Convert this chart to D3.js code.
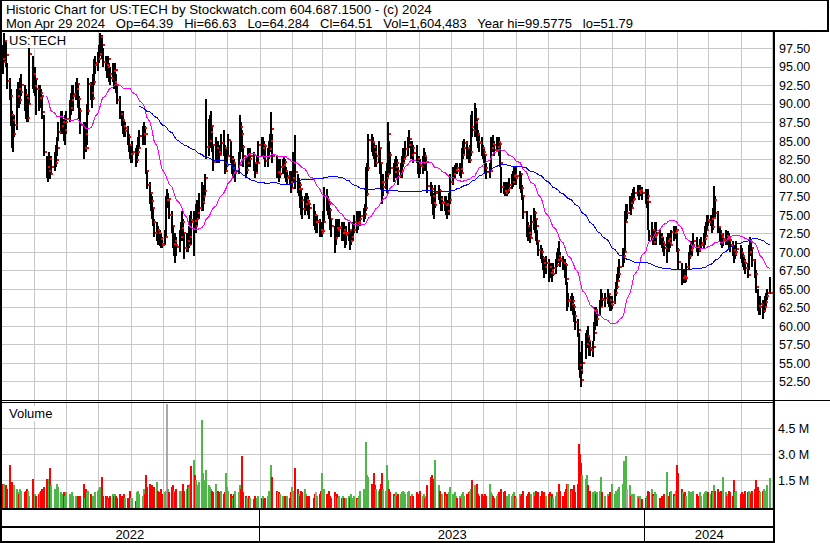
<!DOCTYPE html>
<html>
<head>
<meta charset="utf-8">
<script src="https://cdn.jsdelivr.net/npm/d3@7"></script>
<style>
  body { margin: 0; background: #fff; }
  svg { display: block; }
  text { font-family: "Liberation Sans", Arial, sans-serif; fill: #000; }
</style>
</head>
<body>
<svg id="chart" width="830" height="543"></svg>
<script>
// Daily bars, one entry per trading day from May 2 2022
var closes = [
96.0,95.6,98.5,96.6,93.1,91.0,88.5,87.8,86.0,87.2,
91.0,92.0,90.5,91.6,92.5,91.2,90.8,88.1,90.0,96.7,
94.0,92.4,93.4,92.0,90.8,91.5,91.1,88.9,83.5,81.5,
81.0,82.6,80.5,81.5,82.0,82.4,84.0,86.2,87.0,87.5,
86.5,87.6,88.0,89.5,90.5,91.0,91.4,92.0,92.7,90.6,
89.0,87.1,84.0,86.0,84.0,89.0,92.7,91.5,90.8,93.0,
95.3,95.5,96.0,96.8,99.0,98.0,95.7,95.3,95.0,96.0,94.0,
93.5,94.5,93.0,94.6,92.5,90.5,88.7,87.8,87.0,86.4,86.7,
85.5,84.5,83.2,83.2,83.5,82.4,83.5,84.0,85.6,86.0,
86.7,86.0,81.0,79.1,78.0,76.9,76.0,74.1,72.5,73.0,
72.5,71.8,71.1,71.0,72.0,77.0,77.0,77.2,75.0,73.5,
71.1,71.5,71.0,70.7,72.0,73.2,74.0,72.5,70.5,71.5,70.9,
72.0,74.3,74.0,74.2,73.5,74.5,75.2,75.9,76.8,77.6,
78.2,80.0,84.2,85.0,86.2,87.0,84.5,82.1,84.0,83.5,
83.1,84.7,84.0,81.0,81.8,83.0,85.1,82.6,81.3,82.0,
80.6,81.0,81.7,86.9,86.0,84.2,83.0,81.1,82.0,83.1,
82.6,82.9,82.0,80.7,82.0,84.4,84.0,84.5,84.3,82.3,
83.0,83.9,85.0,86.6,83.0,80.8,80.8,80.5,81.5,81.8,
82.2,81.0,80.0,80.3,79.5,78.7,80.0,82.0,80.8,78.5,
79.0,78.5,77.0,75.8,76.5,77.0,76.8,76.5,76.0,75.0,
74.0,74.0,74.2,73.0,72.6,72.8,74.0,77.6,77.0,76.5,
75.7,74.5,73.5,71.9,73.3,73.0,73.2,73.4,72.5,73.0,
72.5,72.3,72.5,73.0,71.5,72.0,73.0,74.1,73.9,74.0,
74.5,74.8,75.1,76.0,77.8,81.3,85.1,84.8,84.2,83.5,
82.0,83.0,84.0,82.0,79.5,78.8,79.5,80.0,80.5,86.0,
83.1,81.3,80.8,81.5,82.0,81.0,80.2,81.0,82.0,82.6,82.9,
83.9,84.5,85.3,83.1,84.0,83.4,82.6,82.0,81.7,81.6,
82.0,82.9,82.1,82.2,78.9,78.5,77.5,76.6,76.4,78.0,
78.3,77.2,76.6,76.8,76.3,76.5,75.5,77.0,79.5,80.5,
81.1,81.4,81.0,81.2,80.7,83.1,84.0,84.7,84.0,82.4,
83.5,86.9,86.5,87.5,87.9,86.0,84.9,84.7,84.0,83.5,
83.1,81.3,80.8,81.0,84.0,84.6,84.4,83.8,84.2,84.9,84.6,
82.0,78.8,78.3,78.0,78.4,78.6,79.1,79.5,80.2,80.4,80.0,
80.2,80.5,78.7,77.5,75.4,73.5,72.5,72.1,71.9,74.0,
75.3,74.5,73.5,71.5,70.3,70.0,69.2,68.5,67.9,68.5,
68.0,67.1,67.5,67.0,67.8,68.3,68.9,69.5,69.1,68.8,
68.5,68.3,66.4,63.4,63.5,63.0,63.4,62.5,61.3,60.5,59.5,
54.7,54.0,52.7,55.0,57.5,58.6,58.0,57.0,56.8,57.1,
59.0,62.2,60.9,61.5,62.5,63.6,63.5,63.8,64.3,63.5,
63.0,62.8,63.3,64.5,65.3,66.1,67.0,68.0,69.4,70.0,
74.0,75.3,75.3,76.6,75.9,77.0,77.2,78.0,78.2,78.0,
78.4,78.0,77.0,77.5,76.7,72.1,73.0,71.4,72.0,72.3,
72.6,72.0,71.4,71.0,70.5,71.5,71.8,71.2,71.0,72.7,
72.5,72.8,73.0,70.3,68.6,66.5,66.7,66.6,66.5,68.0,
69.4,70.2,70.5,71.0,71.5,70.8,70.3,71.0,71.2,71.7,
72.1,73.0,74.3,74.0,74.4,73.4,74.6,77.0,75.2,73.4,
72.4,72.0,71.6,71.8,72.2,71.8,71.9,71.6,71.0,70.3,
69.7,70.0,70.4,69.8,69.4,68.8,68.5,67.8,66.9,70.0,
71.3,70.5,68.9,67.0,65.3,62.7,62.6,63.0,62.0,62.6,
63.2,64.0,64.4,64.51
];

var highs = [
97.5,98.0,99.58,98.5,95.5,93.5,92.0,89.0,88.5,88.5,
92.0,93.0,92.5,93.5,94.0,92.5,92.0,90.5,91.0,97.5,
96.5,94.5,95.0,93.5,92.5,92.5,92.0,91.0,88.5,83.0,
82.0,83.5,82.5,83.0,83.5,84.5,85.5,87.5,89.0,89.0,
88.0,88.5,89.0,90.5,91.5,92.5,92.5,93.0,93.5,92.5,
91.0,89.5,87.5,87.5,86.5,90.0,93.5,93.0,92.0,94.0,
96.0,96.5,97.0,98.0,99.58,99.3,97.5,96.5,96.0,96.5,95.5,
95.0,95.5,94.5,95.5,94.0,92.5,91.0,89.0,89.0,88.0,87.5,
87.0,86.0,84.5,84.0,85.0,84.0,84.5,85.5,86.5,87.0,
87.5,87.0,84.0,81.0,79.5,78.0,77.5,76.0,74.5,74.0,
73.5,73.0,72.5,72.0,73.0,77.5,78.5,78.0,77.0,75.5,
73.5,72.5,72.5,72.0,73.0,74.0,75.5,74.5,72.5,72.5,72.0,
73.5,75.0,75.5,75.5,75.0,76.5,77.0,78.0,79.5,78.5,
79.0,80.5,90.7,88.0,88.5,89.0,87.0,84.5,85.5,85.0,
84.5,86.0,86.5,84.5,83.5,84.0,86.0,85.0,83.0,83.0,
82.5,82.0,83.5,88.5,87.5,86.5,84.5,83.0,83.0,84.0,
84.0,84.0,83.5,82.0,83.0,85.0,85.5,85.5,85.0,84.5,
84.0,85.0,86.0,88.9,86.0,83.0,82.5,81.5,82.5,82.5,
83.0,82.5,81.5,81.0,81.0,80.0,81.0,83.5,85.8,80.5,
80.0,79.5,78.5,77.5,77.5,78.0,78.0,77.5,77.0,76.5,
75.5,75.0,75.0,74.5,73.5,74.0,75.5,78.8,78.5,77.5,
77.0,76.0,74.5,73.5,74.5,74.5,74.0,74.5,74.0,74.0,
74.0,73.5,73.5,74.0,73.0,73.0,74.0,75.0,75.5,75.0,
75.5,75.5,76.0,76.5,81.5,82.0,86.0,86.0,85.5,85.0,
84.0,84.5,85.0,84.0,82.0,80.5,80.5,81.0,82.0,87.5,
85.0,83.5,82.0,82.5,83.0,82.5,81.5,82.0,83.0,84.0,84.0,
85.0,85.5,86.5,85.0,85.0,84.5,84.5,83.0,83.0,82.5,
83.0,84.0,83.5,83.0,81.0,79.5,79.0,78.0,77.5,79.0,
79.0,78.5,77.5,77.5,77.5,77.5,77.0,78.0,80.5,81.5,
81.8,82.0,82.0,82.0,81.5,84.0,85.0,85.3,85.0,84.0,
84.5,88.5,89.0,90.1,89.5,88.0,86.5,86.0,85.5,84.5,
84.0,83.0,82.0,82.0,85.5,85.5,85.8,85.0,85.5,85.5,85.5,
84.5,81.5,79.5,79.5,79.5,79.5,80.0,80.5,81.0,81.5,81.0,
81.5,81.0,80.5,79.0,77.5,75.5,74.0,73.5,73.0,75.0,
76.0,75.5,74.5,73.0,71.5,71.0,70.5,69.5,69.0,69.5,
69.0,68.5,68.5,68.0,68.5,69.0,70.0,70.5,71.5,70.0,
69.5,69.0,68.5,66.0,64.5,64.0,64.5,64.0,63.0,62.0,61.0,
59.0,56.5,55.0,58.0,59.0,59.5,60.0,58.5,58.0,58.0,
60.5,62.5,62.5,62.0,63.5,65.0,64.5,64.5,65.0,64.5,
64.0,63.5,64.0,65.0,66.0,67.0,68.0,69.0,70.5,70.5,
75.5,76.5,76.5,77.5,77.0,78.0,78.5,78.8,79.0,79.0,
79.0,78.8,78.5,78.5,78.5,73.0,74.0,72.5,73.0,74.0,
74.0,73.0,72.5,72.0,71.5,72.0,72.5,72.0,72.5,73.0,
73.5,73.5,73.5,72.5,70.5,68.5,67.5,67.5,67.5,68.5,
70.0,71.0,71.5,71.5,72.5,72.0,71.0,71.8,72.0,72.5,
73.5,74.0,75.0,75.0,75.0,75.0,76.0,78.9,77.5,75.5,
73.5,73.0,72.5,72.5,73.0,72.8,72.8,72.5,72.0,71.5,
70.5,71.0,71.5,71.0,70.5,70.0,69.5,69.0,68.5,71.0,
72.0,71.5,70.5,69.0,67.5,65.0,63.5,64.0,63.5,63.5,
64.0,64.5,65.0,66.63
];

var lows = [
94.5,94.0,95.5,95.0,92.0,90.5,87.0,84.0,83.5,85.5,
86.5,90.0,89.5,90.0,91.0,89.0,88.0,87.5,87.5,90.0,
92.0,91.5,91.0,88.5,89.0,90.0,89.5,88.0,83.0,80.0,
79.5,80.0,79.8,80.5,81.0,81.5,83.0,85.0,86.0,86.0,
85.0,84.5,86.0,87.5,88.5,89.5,89.0,90.5,91.0,89.5,
88.0,86.0,82.5,83.5,83.5,84.5,88.5,90.5,89.5,90.5,
92.5,94.0,94.5,95.5,96.5,96.0,95.0,94.5,93.5,94.0,93.0,
92.5,93.0,92.0,93.0,91.5,90.0,88.0,87.0,86.0,85.5,85.5,
84.5,83.5,82.5,82.0,82.0,81.5,82.0,83.0,84.0,84.5,
85.0,84.5,80.5,78.5,76.5,75.5,74.5,73.5,72.0,71.5,
71.0,70.8,70.5,70.5,71.0,72.0,76.0,76.0,74.5,72.5,
70.5,69.5,68.5,69.5,70.0,72.0,71.5,71.5,69.0,70.0,70.0,
70.5,71.5,71.0,69.5,72.5,72.5,73.5,74.5,75.5,75.5,
76.5,77.5,82.5,83.0,84.0,85.5,83.5,81.0,82.0,82.0,
82.0,83.0,83.0,80.5,81.0,81.5,83.0,82.0,80.5,80.0,
80.0,79.5,80.5,82.5,84.5,83.5,81.5,80.0,80.5,81.5,
81.5,81.5,81.0,80.0,80.5,82.0,83.0,83.5,82.5,81.5,
81.5,82.5,83.5,84.5,82.0,80.0,80.0,79.5,80.0,80.5,
80.5,80.0,79.5,79.0,79.0,78.0,78.5,79.5,78.5,78.0,
77.5,76.0,75.0,74.5,75.0,75.5,75.5,75.0,74.5,73.5,
73.0,72.5,72.5,72.0,72.0,72.0,72.5,74.0,75.5,75.0,
74.5,73.0,72.0,69.8,71.0,72.0,72.0,72.0,71.5,72.0,
71.5,70.5,71.0,71.5,70.3,71.0,71.5,72.5,72.5,73.0,
73.5,73.5,74.0,74.5,75.5,77.5,81.0,83.5,83.0,82.5,
81.5,81.5,82.0,80.5,78.5,76.5,77.5,78.5,78.0,80.0,
82.5,80.5,79.5,80.0,80.5,79.8,79.0,80.0,80.0,81.5,82.0,
82.5,83.0,84.0,82.5,82.5,82.0,82.0,80.5,80.0,80.5,
80.5,81.5,81.0,81.0,78.0,77.5,76.5,75.0,74.5,76.0,
77.0,76.5,75.5,75.5,75.5,75.0,74.5,75.0,76.5,79.0,
80.0,80.5,80.5,80.3,80.0,80.5,82.5,83.0,82.5,82.0,
82.0,83.0,85.5,85.5,86.0,85.0,84.0,83.5,83.0,82.5,
82.0,80.5,79.8,80.0,81.0,83.5,83.5,83.0,83.5,83.5,83.0,
81.5,78.0,77.8,77.5,77.5,77.8,78.0,78.5,78.8,79.5,79.0,
79.0,78.5,78.0,77.0,74.5,72.0,71.5,71.5,71.2,72.0,
73.0,72.5,71.5,71.0,69.5,69.0,68.5,67.5,66.5,67.0,
66.0,66.5,66.5,66.0,66.8,67.0,68.0,68.5,68.5,68.0,
67.5,66.5,65.5,62.0,62.5,62.0,62.0,61.5,60.5,59.5,58.5,
54.0,53.0,51.79,53.5,55.5,57.0,57.5,56.0,56.0,55.8,
58.0,59.5,60.0,60.0,61.5,62.5,62.5,62.5,63.0,62.5,
62.0,62.0,62.3,63.0,64.0,65.0,66.0,66.5,68.0,68.5,
70.0,74.0,74.5,75.5,75.0,76.0,76.5,77.0,77.5,77.0,
77.5,77.0,76.5,76.0,73.0,71.5,71.5,71.0,71.0,71.5,
71.0,71.0,70.5,70.0,69.5,68.5,70.5,70.0,70.5,71.0,
71.5,71.8,72.0,70.0,67.5,65.5,65.8,66.0,65.8,66.0,
67.5,69.0,69.5,69.5,70.5,70.0,69.5,70.0,70.5,70.5,
71.0,72.0,73.0,73.5,73.5,72.5,73.0,74.5,74.5,72.5,
71.5,71.0,70.5,70.8,71.0,71.0,71.2,70.5,70.0,69.5,
68.5,69.0,69.5,69.0,68.5,68.0,67.5,67.0,66.5,67.5,
69.5,69.5,68.0,66.5,64.5,62.0,61.5,61.5,61.0,61.8,
62.0,62.5,63.5,64.284
];

// volume in millions of shares
var volumes = [
0.9,1.3,1.3,1.2,1.0,2.4,1.1,1.4,0.9,1.2,
1.0,0.8,0.7,1.0,0.9,0.8,0.9,1.0,0.9,0.6,
1.55,0.6,0.7,0.6,0.7,0.8,0.9,1.0,1.1,1.6,
1.3,1.6,2.2,1.2,1.0,0.9,1.3,1.1,0.8,0.7,
0.8,0.6,0.8,0.7,0.6,0.8,0.6,0.6,0.5,0.6,
0.5,0.6,1.3,0.5,1.0,0.8,0.9,0.7,0.6,0.6,
0.6,0.8,0.9,1.0,1.1,1.7,0.6,0.6,0.6,0.4,0.5,
0.6,0.7,0.6,0.7,0.6,0.5,0.7,0.6,0.5,0.7,0.5,
0.5,0.5,0.9,0.5,0.5,0.3,0.8,0.9,0.7,0.6,
1.0,0.7,1.8,1.1,1.3,0.9,1.2,0.9,1.1,1.4,
0.9,0.8,1.0,0.7,0.8,0.9,5.9,1.0,0.8,1.1,
1.2,0.9,0.8,1.0,0.9,0.9,0.8,1.3,0.9,1.0,1.2,
1.1,1.3,2.3,2.7,1.8,1.5,1.2,1.4,5.0,1.9,
1.4,1.5,2.1,1.2,1.1,1.0,0.9,0.8,1.3,0.9,
0.8,0.9,0.7,0.8,1.9,1.1,0.9,0.7,0.6,0.5,
0.7,0.9,0.8,1.2,1.0,2.9,0.8,0.6,0.5,0.5,
0.6,0.5,0.4,0.6,0.5,0.6,0.5,0.6,0.4,0.5,
0.6,0.9,0.7,2.4,1.7,0.9,0.8,0.8,0.7,0.6,
0.5,0.6,0.5,0.6,0.5,0.8,1.1,0.9,2.2,1.0,
0.7,0.6,0.9,0.8,1.0,0.7,0.6,0.5,0.6,0.5,
0.7,0.8,0.6,0.7,0.9,1.95,0.8,1.0,0.7,0.6,
0.9,0.6,0.5,0.8,0.6,0.7,0.5,0.6,0.5,0.6,
0.5,0.4,0.5,0.6,0.5,0.7,0.5,0.6,0.5,0.4,
0.6,0.9,1.0,0.8,3.7,1.8,1.7,1.3,1.0,1.9,
1.2,1.0,0.9,1.0,1.3,1.9,1.0,0.9,2.4,1.5,
1.0,0.8,0.7,0.6,0.8,0.6,0.7,0.7,0.8,0.9,0.8,
0.7,0.8,0.9,0.6,0.7,0.6,0.8,0.7,0.6,0.9,
0.6,0.7,0.5,0.6,1.2,1.7,1.8,1.6,1.0,2.65,
1.2,0.9,0.6,0.7,0.8,0.6,0.7,0.8,1.1,0.7,
0.8,0.6,0.5,0.6,0.5,0.7,0.8,0.6,0.7,0.8,
0.9,1.0,1.5,1.2,1.0,1.3,0.7,0.6,0.7,0.5,
0.6,0.7,0.6,1.3,0.8,0.7,0.6,0.5,0.6,0.7,0.8,
0.6,1.0,0.8,0.9,0.6,0.5,0.7,0.6,0.7,0.8,0.6,
0.5,0.7,0.6,0.7,0.9,0.6,0.7,0.8,0.6,0.7,
0.8,0.6,0.9,0.7,0.8,0.6,0.9,0.7,0.8,0.6,
0.7,0.8,0.6,0.7,0.5,0.6,0.8,0.7,1.3,0.9,
0.6,0.8,1.0,1.3,1.3,1.0,0.9,1.0,1.2,0.8,1.3,
3.6,3.0,2.5,1.8,1.6,1.8,1.2,0.8,0.9,0.8,
0.7,0.9,0.7,0.8,0.9,1.7,0.8,0.6,0.7,0.6,
0.8,0.7,1.3,0.7,0.9,0.8,1.0,1.1,1.3,2.6,
1.5,2.9,1.0,1.2,0.6,0.7,0.6,0.7,0.6,0.5,
0.6,0.4,0.5,0.6,0.9,0.8,1.0,0.7,0.6,0.8,
0.7,0.5,0.6,0.5,0.7,2.0,0.5,0.6,0.8,0.9,
0.7,0.6,0.9,2.4,1.9,1.0,0.8,0.7,0.8,0.6,
0.9,0.7,0.8,0.6,0.9,0.7,0.6,0.8,0.6,0.7,
0.8,0.9,0.6,0.8,0.7,0.9,0.8,1.2,0.9,1.0,
0.8,0.9,0.7,1.7,0.8,0.6,0.7,0.9,0.8,0.6,
1.5,0.8,0.9,0.7,0.8,0.6,0.7,0.9,0.8,0.9,
0.8,0.7,0.9,1.0,1.5,1.1,0.9,0.8,0.9,1.0,
0.8,0.9,1.2,1.604483
];

// NYSE closures in the period
var holidays = ["2022-05-30","2022-06-20","2022-07-04","2022-09-05","2022-11-24","2022-12-26",
  "2023-01-02","2023-01-16","2023-02-20","2023-04-07","2023-05-29","2023-06-19","2023-07-04",
  "2023-09-04","2023-11-23","2023-12-25","2024-01-01","2024-01-15","2024-02-19","2024-03-29"];

var priceTicks = [52.5,55,57.5,60,62.5,65,67.5,70,72.5,75,77.5,80,82.5,85,87.5,90,92.5,95,97.5];
var volumeTicks = [1.5, 3.0, 4.5];
var yearLabels = ["2022", "2023", "2024"];
var maWindows = [30, 90];
var maColors = ["#ff00ff", "#0000ff"];

var headerLine1 = "Historic Chart for US:TECH by Stockwatch.com 604.687.1500 - (c) 2024";
var headerLine2 = "Mon Apr 29 2024   Op=64.39   Hi=66.63   Lo=64.284   Cl=64.51   Vol=1,604,483   Year hi=99.5775   lo=51.79";

// layout
var svg = d3.select("#chart"),
  plotLeft = 2,
  plotRight = 774,
  priceTop = 33,
  priceBottom = 400,
  volTop = 402,
  volBase = 506.2,
  grid = "#c8c8c8";

// trading calendar
var dates = [];
var day = new Date(Date.UTC(2022, 4, 2));
while (dates.length < closes.length) {
  var dow = day.getUTCDay();
  var iso = day.toISOString().slice(0, 10);
  if (dow !== 0 && dow !== 6 && holidays.indexOf(iso) < 0) dates.push(new Date(day));
  day.setUTCDate(day.getUTCDate() + 1);
}

var n = Math.min(closes.length, highs.length, lows.length, volumes.length);
var bars = [];
for (var i = 0; i < n; i++) {
  bars.push({date: dates[i], close: closes[i], high: highs[i], low: lows[i], vol: volumes[i],
    prev: i ? closes[i - 1] : closes[i]});
}

var x = d3.scaleUtc()
  .domain([new Date(Date.UTC(2022, 3, 29, 18)), new Date(Date.UTC(2024, 4, 2, 15))])
  .range([0, plotRight]);
var y = d3.scaleLinear().domain([50, 99.5775]).range([priceBottom, priceTop]);
var yv = d3.scaleLinear().domain([0, 6.03]).range([volBase, volTop]);

svg.append("rect").attr("width", 830).attr("height", 543).attr("fill", "#fff");

// grid
var g = svg.append("g").attr("shape-rendering", "crispEdges");
var months = d3.utcMonth.range(x.domain()[0], x.domain()[1]);
g.selectAll(".vgrid").data(months).enter().append("line")
  .attr("x1", d => Math.round(x(d)) + 0.5).attr("x2", d => Math.round(x(d)) + 0.5)
  .attr("y1", 32).attr("y2", 508)
  .attr("stroke", grid);
g.selectAll(".hgrid").data(priceTicks).enter().append("line")
  .attr("x1", plotLeft).attr("x2", plotRight)
  .attr("y1", d => Math.round(y(d)) + 0.5).attr("y2", d => Math.round(y(d)) + 0.5)
  .attr("stroke", grid);
g.selectAll(".vhgrid").data(volumeTicks).enter().append("line")
  .attr("x1", plotLeft).attr("x2", plotRight)
  .attr("y1", d => Math.round(yv(d)) + 0.5).attr("y2", d => Math.round(yv(d)) + 0.5)
  .attr("stroke", grid);

// volume bars
function volColor(d) {
  if (d.close > d.prev) return "#4db848";
  if (d.close < d.prev) return "#ff0000";
  return "#a8a8a8";
}
svg.append("g").attr("shape-rendering", "crispEdges")
  .selectAll("rect").data(bars).enter().append("rect")
  .attr("x", d => Math.round(x(d.date)) - 1)
  .attr("width", 2)
  .attr("y", d => Math.round(yv(d.vol)))
  .attr("height", d => 509 - Math.round(yv(d.vol)))
  .attr("fill", volColor);

// price bars: high-low stems, then the close ticks on top
var pb = svg.append("g").attr("shape-rendering", "crispEdges");
pb.selectAll(".stem").data(bars).enter().append("rect")
  .attr("x", d => Math.round(x(d.date)) - 1)
  .attr("width", 2)
  .attr("y", d => Math.round(y(d.high)))
  .attr("height", d => Math.max(1, Math.round(y(d.low)) - Math.round(y(d.high))))
  .attr("fill", "#000");
pb.selectAll(".tick").data(bars).enter().append("rect")
  .attr("x", d => Math.round(x(d.date)) + 1)
  .attr("width", 2)
  .attr("y", d => Math.round(y(d.close)) - 1)
  .attr("height", 2)
  .attr("fill", "#ff0000");

// moving averages
maWindows.forEach(function (w, k) {
  var pts = [];
  for (var i = w - 1; i < bars.length; i++) {
    pts.push({date: bars[i].date, v: d3.mean(closes.slice(i - w + 1, i + 1))});
  }
  svg.append("path").datum(pts)
    .attr("fill", "none")
    .attr("stroke", maColors[k])
    .attr("stroke-width", 1)
    .attr("shape-rendering", "crispEdges")
    .attr("d", d3.line().x(d => x(d.date)).y(d => y(d.v)));
});

// frame
var f = svg.append("g").attr("shape-rendering", "crispEdges").attr("fill", "#000");
f.append("rect").attr("x", 0).attr("y", 0).attr("width", 829).attr("height", 1);
f.append("rect").attr("x", 0).attr("y", 0).attr("width", 2).attr("height", 543);
f.append("rect").attr("x", 0).attr("y", 30).attr("width", 829).attr("height", 2);
f.append("rect").attr("x", 827).attr("y", 0).attr("width", 2).attr("height", 32);
f.append("rect").attr("x", plotRight - 1).attr("y", 30).attr("width", 2).attr("height", 513);
f.append("rect").attr("x", 0).attr("y", 400).attr("width", 830).attr("height", 1);
f.append("rect").attr("x", 0).attr("y", 402).attr("width", plotRight).attr("height", 1);
f.append("rect").attr("x", 0).attr("y", 508).attr("width", plotRight).attr("height", 2);
f.append("rect").attr("x", 0).attr("y", 526).attr("width", plotRight).attr("height", 2);
f.append("rect").attr("x", 0).attr("y", 541).attr("width", plotRight).attr("height", 2);

// year bands
var yearStarts = d3.utcYear.range(x.domain()[0], x.domain()[1]);
f.selectAll(".ydiv").data(yearStarts).enter().append("rect")
  .attr("x", d => Math.round(x(d)) - 1).attr("y", 510).attr("width", 1).attr("height", 31);
var edges = [0].concat(yearStarts.map(d => x(d)), [plotRight]);
svg.selectAll(".year").data(yearLabels).enter().append("text")
  .attr("x", (d, i) => (edges[i] + edges[i + 1]) / 2)
  .attr("y", 539)
  .attr("text-anchor", "middle")
  .attr("font-size", "13px")
  .text(d => d);

// axis labels on the right
svg.selectAll(".plab").data(priceTicks).enter().append("text")
  .attr("x", 779).attr("y", d => y(d) + 4.6)
  .attr("font-size", "12.5px")
  .text(d => d3.format(".2f")(d));
svg.selectAll(".vlab").data(volumeTicks).enter().append("text")
  .attr("x", 778).attr("y", d => yv(d) + 4.6)
  .attr("font-size", "12.5px")
  .text(d => d3.format(".1f")(d) + " M");

// panel titles with white backing
function panelLabel(txt, px, py) {
  var bg = svg.append("rect").attr("fill", "#fff");
  var t = svg.append("text").attr("x", px).attr("y", py).attr("font-size", "13px").text(txt);
  var b = t.node().getBBox();
  bg.attr("x", b.x - 2).attr("y", b.y).attr("width", b.width + 4).attr("height", b.height);
}
panelLabel("US:TECH", 9, 45);
panelLabel("Volume", 9, 418);

// header
svg.append("text").attr("x", 6).attr("y", 13.5).attr("font-size", "13.3px")
  .attr("xml:space", "preserve").style("white-space", "pre").text(headerLine1);
svg.append("text").attr("x", 6).attr("y", 27.5).attr("font-size", "13px")
  .attr("xml:space", "preserve").style("white-space", "pre").text(headerLine2);
</script>
</body>
</html>
